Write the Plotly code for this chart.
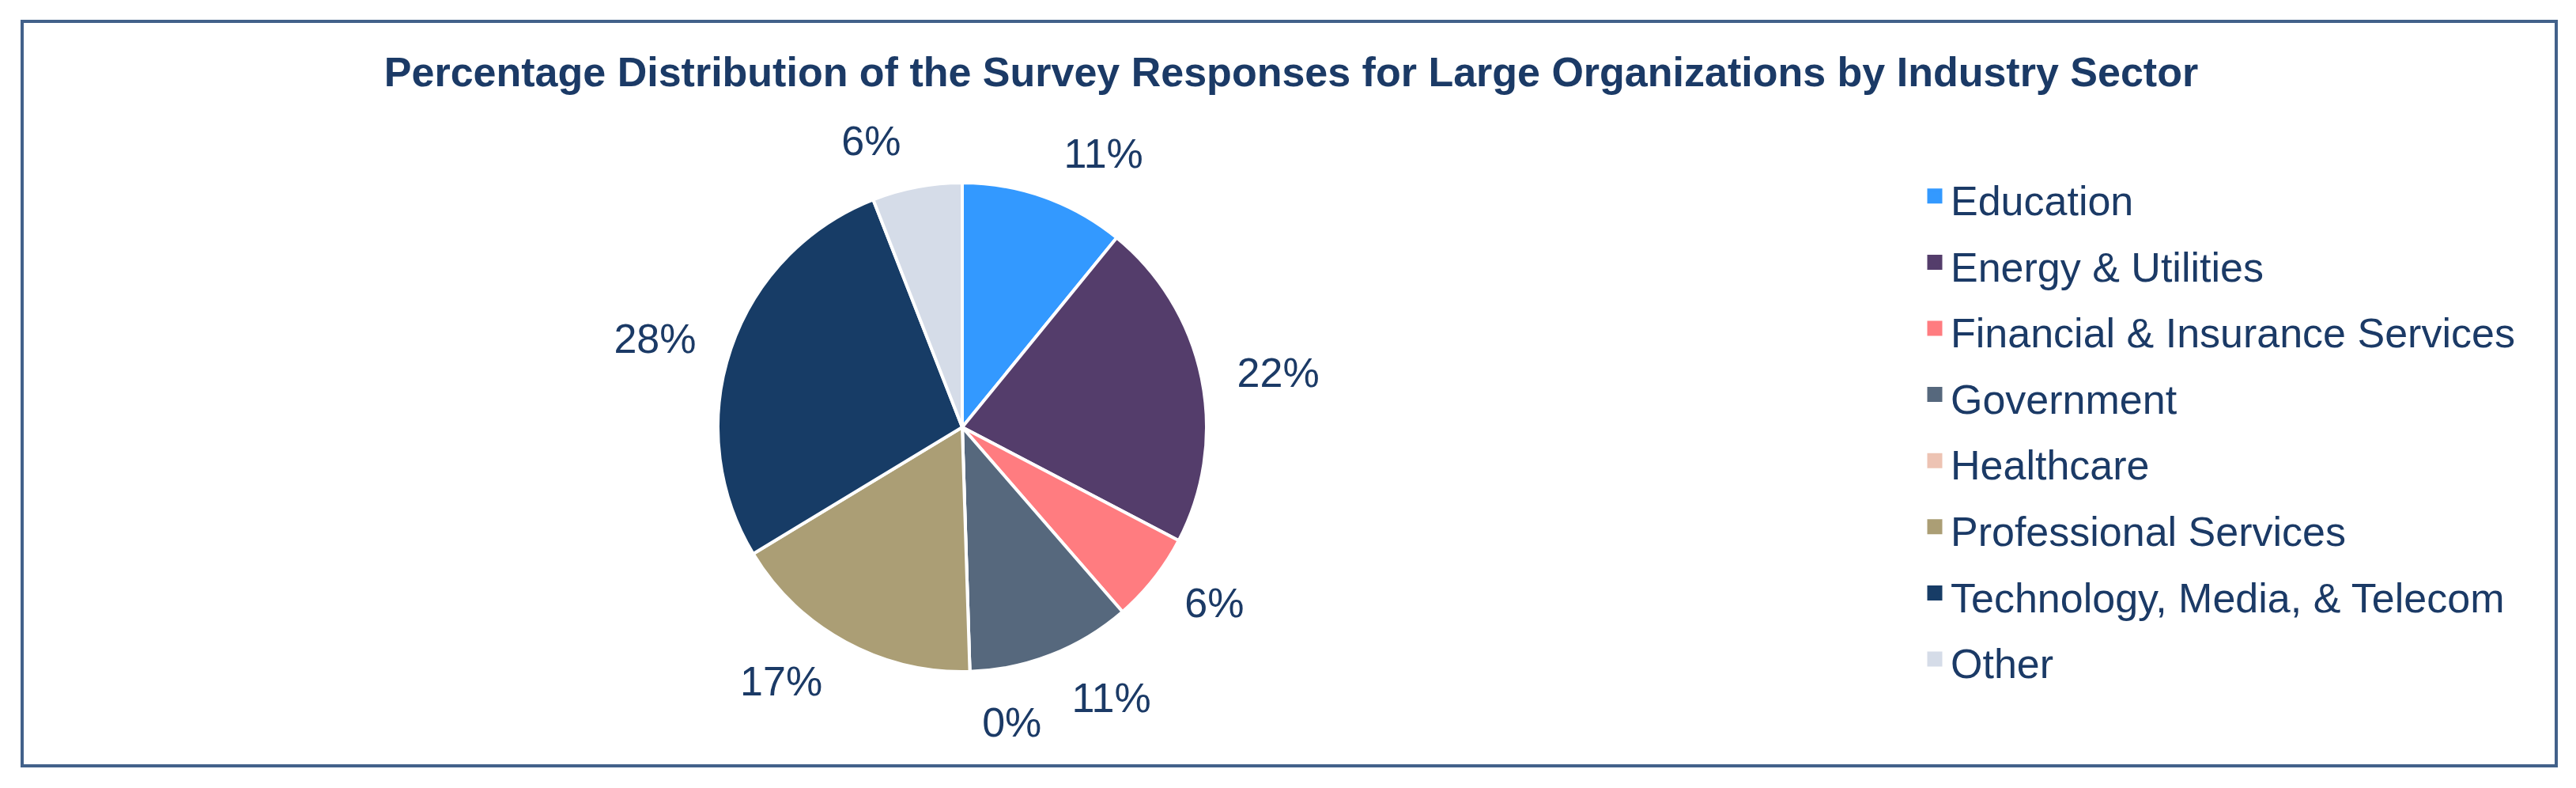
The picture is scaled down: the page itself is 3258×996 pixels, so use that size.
import plotly.graph_objects as go

# Data
sectors = [
    "Education",
    "Energy & Utilities",
    "Financial & Insurance Services",
    "Government",
    "Healthcare",
    "Professional Services",
    "Technology, Media, & Telecom",
    "Other",
]
shares_pct = [11, 22, 6, 11, 0, 17, 28, 6]
colors = ["#3399FF", "#543D6B", "#FF7C80", "#56687D", "#EDC3B3", "#AB9E75", "#173C66", "#D5DCE8"]

title_text = "Percentage Distribution of the Survey Responses for Large Organizations by Industry Sector"

# page has an 8px body margin; lay the figure out in page pixels
OFF = 8
W, H = 3258 - OFF, 996 - OFF
TEXT = "#1B3A66"
FONT = "Liberation Sans, Arial, sans-serif"


def px(xp):
    return (xp - OFF) / W


def py(yp):
    return 1 - (yp - OFF) / H


CX, CY, R = 1217, 540, 309      # pie centre / radius (page px)
RL = 340                        # radius at which the outside labels sit
RZ = 344                        # radius for the zero-share label


def dom(r):
    return dict(x=[px(CX - r), px(CX + r)], y=[py(CY + r), py(CY - r)])


slice_text = ["%d%%" % v for v in shares_pct]
pos_main = ["outside" if v > 0 else "none" for v in shares_pct]
pos_zero = ["outside" if v == 0 else "none" for v in shares_pct]

common = dict(labels=sectors, values=shares_pct, sort=False,
              direction="clockwise", rotation=0, hoverinfo="skip",
              showlegend=False)
clear = dict(colors=["rgba(0,0,0,0)"] * len(sectors), line=dict(width=0))
label_font = dict(family=FONT, size=52, color=TEXT)

fig = go.Figure()
# the pie itself
fig.add_trace(go.Pie(**common, textinfo="none",
                     marker=dict(colors=colors, line=dict(color="white", width=4)),
                     domain=dom(R)))
# percentage labels, placed outside a slightly larger transparent ring
fig.add_trace(go.Pie(**common, text=slice_text, textinfo="text",
                     textposition=pos_main, marker=clear,
                     outsidetextfont=label_font, domain=dom(RL)))
# the 0% label on its own, so it is not pushed away from the others
fig.add_trace(go.Pie(**common, text=slice_text, textinfo="text",
                     textposition=pos_zero, marker=clear,
                     outsidetextfont=label_font, domain=dom(RZ)))

# legend entries with larger square swatches
for name, col in zip(sectors, colors):
    fig.add_trace(go.Scatter(
        x=[None], y=[None], mode="markers", hoverinfo="skip",
        name='<span style="font-size:52px">%s</span>' % name,
        marker=dict(symbol="square", size=16, color=col,
                    line=dict(color=col, width=3)),
    ))

fig.update_layout(
    width=W,
    height=H,
    margin=dict(l=0, r=0, t=0, b=0),
    paper_bgcolor="white",
    plot_bgcolor="rgba(0,0,0,0)",
    font=dict(family=FONT, color=TEXT),
    xaxis=dict(visible=False),
    yaxis=dict(visible=False),
    title=dict(
        text="<b>%s</b>" % title_text,
        font=dict(family=FONT, size=52, color=TEXT),
        x=0.5,
        xanchor="center",
        xref="container",
        y=py(91),
        yanchor="middle",
        yref="container",
    ),
    legend=dict(
        x=px(2427),
        xanchor="left",
        y=py(201),
        yanchor="top",
        font=dict(family=FONT, size=62, color=TEXT),
        bgcolor="rgba(0,0,0,0)",
        traceorder="normal",
        itemsizing="trace",
    ),
    showlegend=True,
    shapes=[
        dict(
            type="rect",
            xref="paper",
            yref="paper",
            x0=px(28),
            x1=px(3233),
            y0=py(968),
            y1=py(27),
            line=dict(color="#42618A", width=4),
            fillcolor="rgba(0,0,0,0)",
            layer="below",
        )
    ],
)

fig.write_html("out.html")
